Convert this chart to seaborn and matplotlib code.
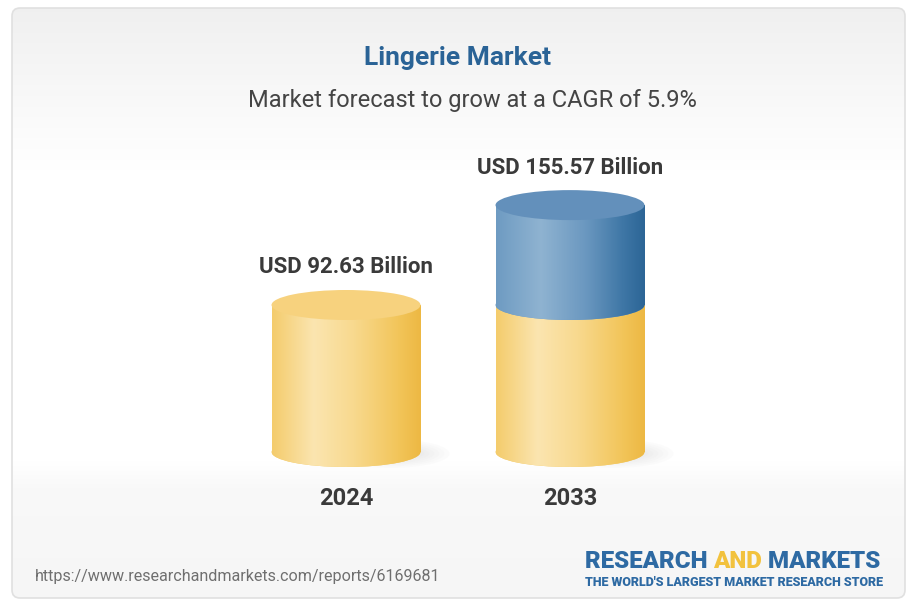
import numpy as np
import pandas as pd
import seaborn as sns
import matplotlib.pyplot as plt
from matplotlib.patches import Ellipse, FancyBboxPatch
from matplotlib.colors import LinearSegmentedColormap

# data
years = ["2024", "2033"]
base_values = [92.63, 92.63]
total_values = [92.63, 155.57]
value_labels = ["USD 92.63 Billion", "USD 155.57 Billion"]
title = "Lingerie Market"
subtitle = "Market forecast to grow at a CAGR of 5.9%"
source = "https://www.researchandmarkets.com/reports/6169681"

df = pd.DataFrame({"year": years, "base": base_values, "total": total_values})

sns.set_style("white")
plt.rcParams["font.family"] = ["Roboto", "DejaVu Sans"]

W, H = 921, 610
fig = plt.figure(figsize=(W / 100, H / 100), dpi=100)
fig.patch.set_facecolor("white")

# background card
bg = fig.add_axes([0, 0, 1, 1])
bg.set_xlim(0, W)
bg.set_ylim(H, 0)
bg.axis("off")
card = FancyBboxPatch((12, 8), 893, 590, boxstyle="round,pad=0,rounding_size=8",
                      facecolor="none", edgecolor="#e0e0e0", lw=1.2, zorder=3)
bg.add_patch(card)
ys = np.linspace(0, 1, 600)
shade_col = np.interp(ys * 610, [8, 40, 170, 462, 490, 598], [0.94, 0.952, 1.0, 1.0, 0.975, 0.965])
bgimg = np.dstack([shade_col] * 3).reshape(600, 1, 3)
im = bg.imshow(bgimg, extent=[12, 905, 610, 0], aspect="auto", zorder=1)
clip = FancyBboxPatch((12, 8), 893, 590, boxstyle="round,pad=0,rounding_size=8",
                      facecolor="none", edgecolor="none", transform=bg.transData)
bg.add_patch(clip)
im.set_clip_path(clip)
bg.set_xlim(0, W)
bg.set_ylim(H, 0)

# main axes: value 0 at pixel 452, 1.587 px per unit
px_per_unit = 1.587
ax_top, ax_bot = 140, 470
ax = fig.add_axes([122 / W, (H - ax_bot) / H, 672 / W, (ax_bot - ax_top) / H])
ax.patch.set_alpha(0)

bar_w = 0.665
ell_h = 30 / px_per_unit

yellow = LinearSegmentedColormap.from_list("y", [(0, "#f4cc6c"), (0.28, "#fbe5b0"),
                                                (0.55, "#f8d98e"), (0.85, "#f2c55a"), (1, "#edb843")])
blue = LinearSegmentedColormap.from_list("b", [(0, "#6e9bc2"), (0.3, "#8fb3d1"),
                                              (0.6, "#6b98c0"), (0.85, "#3f77a6"), (1, "#2c6596")])

sns.barplot(data=df, x="year", y="total", color="#6e9bc2", width=bar_w, ax=ax, zorder=2)
sns.barplot(data=df, x="year", y="base", color="#f4cc6c", width=bar_w, ax=ax, zorder=2)

n = len(years)
blue_bars = ax.patches[:n]
yellow_bars = ax.patches[n:2 * n]
grad = np.linspace(0, 1, 256).reshape(1, -1)


def fill(patch, cmap, z, x0, x1, y0, y1):
    patch.set_zorder(z)
    patch.set_edgecolor("none")
    img = ax.imshow(grad, cmap=cmap, extent=[x0, x1, y0, y1], aspect="auto",
                    zorder=z + 0.01, interpolation="bilinear")
    img.set_clip_path(patch)


for i in range(n):
    yb, bb = yellow_bars[i], blue_bars[i]
    x0 = yb.get_x()
    x1 = x0 + yb.get_width()
    cx = (x0 + x1) / 2
    # soft shadow
    for k in range(6):
        sh = Ellipse((cx + 0.2, -1), 0.3 + k * 0.045, ell_h * (0.45 + k * 0.1),
                     facecolor="#a8a8a8", edgecolor="none", alpha=0.035, zorder=1)
        ax.add_patch(sh)
    # yellow segment
    top = yb.get_height()
    e0 = Ellipse((cx, 0), bar_w, ell_h, facecolor="#f4cc6c", edgecolor="none")
    ax.add_patch(e0)
    fill(e0, yellow, 3, x0, x1, -ell_h, ell_h)
    fill(yb, yellow, 3.1, x0, x1, 0, top)
    if bb.get_height() > top + 1e-6:
        total = bb.get_height()
        bb.set_y(top)
        bb.set_height(total - top)
        e1 = Ellipse((cx, top), bar_w, ell_h, facecolor="#6e9bc2", edgecolor="none")
        ax.add_patch(e1)
        fill(e1, blue, 4, x0, x1, top - ell_h, top + ell_h)
        fill(bb, blue, 4.1, x0, x1, top, total)
        ax.add_patch(Ellipse((cx, total), bar_w, ell_h,
                             facecolor="#6390bb", edgecolor="none", zorder=5))
    else:
        bb.set_visible(False)
        ax.add_patch(Ellipse((cx, top), bar_w, ell_h, facecolor="#f7d27e",
                             edgecolor="none", zorder=5))
    ax.annotate(value_labels[i], (cx, total_values[i]), xytext=(0, 27), textcoords="offset points",
                ha="center", va="center", fontsize=16, fontweight="bold", color="#3a3a3a")

ax.set_xlim(-1, 2)
ax.set_ylim(-(ax_bot - 452) / px_per_unit, (452 - ax_top) / px_per_unit)
ax.set_xlabel("")
ax.set_ylabel("")
ax.set_yticks([])
ax.tick_params(axis="x", length=0, pad=12, labelsize=17)
for lab in ax.get_xticklabels():
    lab.set_fontweight("bold")
    lab.set_color("#3a3a3a")
sns.despine(ax=ax, left=True, bottom=True)

# titles
fig.text(458 / W, 1 - 58 / H, title, ha="center", va="center", fontsize=19,
         fontweight="bold", color="#2a6396")
fig.text(472 / W, 1 - 100 / H, subtitle, ha="center", va="center", fontsize=17,
         color="#444444")

# footer
fig.text(35 / W, 1 - 576 / H, source, ha="left", va="center", fontsize=11.6, color="#6f6f6f")
r = fig.canvas.get_renderer()
x = 585
for part, col in [("RESEARCH ", "#2e6aa3"), ("AND", "#f2c23e"), (" MARKETS", "#2e6aa3")]:
    t = fig.text(x / W, 1 - 561 / H, part, ha="left", va="center", fontsize=17.4,
                 fontweight="heavy", color=col)
    x += t.get_window_extent(r).width
fig.text(585 / W, 1 - 582 / H, "THE WORLD'S LARGEST MARKET RESEARCH STORE", ha="left",
         va="center", fontsize=9, fontweight="heavy", color="#2e6aa3")

fig.savefig("out.png", dpi=100)
